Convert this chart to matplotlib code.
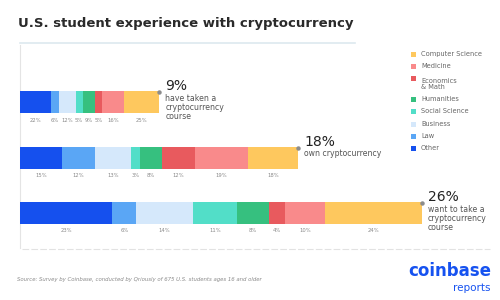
import matplotlib
matplotlib.use("Agg")
import matplotlib.pyplot as plt
from matplotlib.patches import Rectangle

# categories in stacking order (left to right)
categories = ["Other", "Law", "Business", "Social Science", "Humanities",
              "Economics\n& Math", "Medicine", "Computer Science"]
colors = ["#1550EE", "#5AA6F5", "#D5E8FB", "#52DEC8", "#36C07F",
          "#E85A5E", "#F98A8B", "#FEC85E"]

# headline shares and the subject split inside each group
groups = ["have taken a\ncryptocurrency\ncourse", "own cryptocurrency",
          "want to take a\ncryptocurrency\ncourse"]
headline = [9, 18, 26]
shares = [
    [22, 6, 12, 5, 9, 5, 16, 25],
    [15, 12, 13, 3, 8, 12, 19, 18],
    [23, 6, 14, 11, 8, 4, 10, 24],
]

fig = plt.figure(figsize=(5, 3), dpi=100)
fig.patch.set_facecolor("white")

# overlay axes in pixel units for text/decoration
ov = fig.add_axes([0, 0, 1, 1])
ov.set_xlim(0, 500)
ov.set_ylim(300, 0)
ov.axis("off")

# bar axes: x in headline percent, y in pixel rows
ax = fig.add_axes([20 / 500, 0, 480 / 500, 1])
ax.set_xlim(0, 480 / 15.45)
ax.set_ylim(300, 0)
ax.axis("off")

bar_y = [102, 157.5, 213]
bar_h = 22

for i in range(3):
    left = 0.0
    for j, s in enumerate(shares[i]):
        w = headline[i] * s / 100
        ax.barh(bar_y[i], w, left=left, height=bar_h, color=colors[j],
                edgecolor="none")
        ax.text(left + w / 2, bar_y[i] + bar_h / 2 + 7, f"{s}%",
                ha="center", va="center", fontsize=3.8, color="#8a8a8a")
        left += w
    ax.plot(headline[i], bar_y[i] - bar_h / 2 + 1, "o", ms=2.2,
            color="#8c8c8c")
    ax.text(headline[i] + 0.4, bar_y[i] - bar_h / 2 - 5, f"{headline[i]}%",
            ha="left", va="center", fontsize=10, color="#222222")
    ax.text(headline[i] + 0.4, bar_y[i] - bar_h / 2 + 3, groups[i],
            ha="left", va="top", fontsize=5.6, color="#555555",
            linespacing=1.0)

# title and rules
ov.text(18, 23, "U.S. student experience with cryptocurrency", ha="left",
        va="center", fontsize=9.5, color="#2a2a2a", fontweight="bold")
ov.plot([20, 355], [43, 43], color="#dde9ef", lw=1.2)
ov.plot([20, 20], [45, 248], color="#e4e4e4", lw=0.8)
ov.plot([22, 490], [249, 249], color="#e2e2e2", lw=0.8, ls=(0, (6, 2)))

# legend, top to bottom
leg_y = [54, 66, 78, 99, 111, 124, 136, 148]
for k, cat in enumerate(reversed(categories)):
    c = colors[len(categories) - 1 - k]
    ov.add_patch(Rectangle((411, leg_y[k] - 2.5), 5, 5, color=c, lw=0))
    ov.text(421, leg_y[k], cat, ha="left", va="top" if "\n" in cat else "center",
            fontsize=4.8, color="#666666", linespacing=1.0)

# footer
ov.text(17, 280, "Source: Survey by Coinbase, conducted by Qriously of 675 U.S. students ages 16 and older",
        ha="left", va="center", fontsize=3.9, color="#8a8a8a", style="italic")
ov.text(491, 271, "coinbase", ha="right", va="center", fontsize=12,
        color="#1652F0", fontweight="bold")
ov.text(491, 288, "reports", ha="right", va="center", fontsize=7.5,
        color="#1652F0")

fig.savefig("out.png", dpi=100, facecolor="white")
